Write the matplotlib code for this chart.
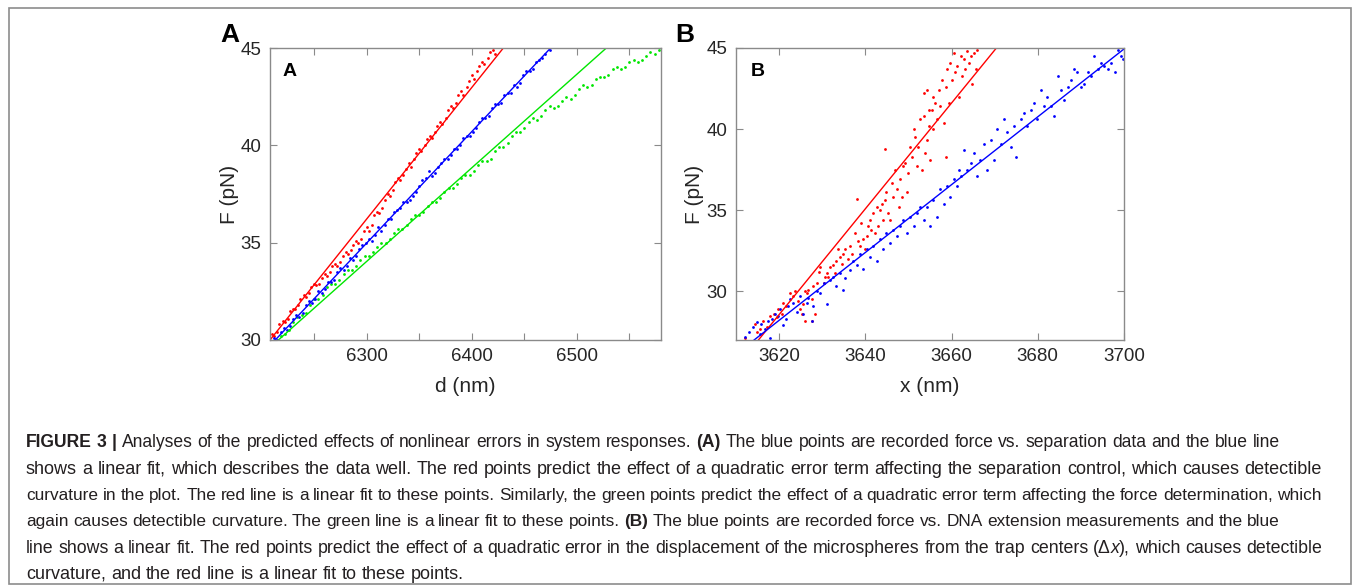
"""Figure 3 (A: force vs separation, B: force vs extension) with caption."""

import math

import matplotlib

matplotlib.use("Agg")
import matplotlib.pyplot as plt
from matplotlib import font_manager
from matplotlib.backends.backend_agg import get_hinting_flag
from matplotlib.font_manager import FontProperties
from matplotlib.patches import Rectangle

W, H, DPI = 1355, 585, 100

# ---- panel A: F vs d ----
a_blue_x = [6212, 6215, 6218, 6221, 6224, 6227, 6230, 6233, 6236, 6239, 6242, 6245,
            6248, 6251, 6254, 6257, 6260, 6263, 6266, 6269, 6272, 6275, 6278, 6281,
            6284, 6287, 6290, 6293, 6296, 6299, 6302, 6305, 6308, 6311, 6314, 6317,
            6320, 6323, 6326, 6329, 6332, 6335, 6338, 6341, 6344, 6347, 6350, 6353,
            6356, 6359, 6362, 6365, 6368, 6371, 6374, 6377, 6380, 6383, 6386, 6389,
            6392, 6395, 6398, 6401, 6404, 6407, 6410, 6413, 6416, 6419, 6422, 6425,
            6428, 6431, 6434, 6437, 6440, 6443, 6446, 6449, 6452, 6455, 6458, 6461,
            6464, 6467, 6470, 6474]
a_blue_y = [30.1, 30.0, 30.4, 30.6, 30.5, 30.7, 31.1, 31.3, 31.2, 31.4, 31.8, 32.0,
            31.9, 32.1, 32.5, 32.4, 32.6, 33.0, 33.0, 33.1, 33.5, 33.7, 33.6, 33.8,
            34.2, 34.1, 34.3, 34.7, 34.9, 35.0, 35.2, 35.1, 35.4, 35.8, 35.6, 35.9,
            36.2, 36.2, 36.6, 36.7, 36.8, 37.1, 37.1, 37.2, 37.4, 37.6, 37.9, 38.2,
            38.3, 38.7, 38.4, 38.6, 38.9, 39.1, 39.3, 39.3, 39.5, 39.8, 39.8, 40.0,
            40.4, 40.5, 40.5, 40.7, 40.9, 41.2, 41.4, 41.4, 41.5, 41.9, 42.1, 42.1,
            42.2, 42.6, 42.7, 42.7, 43.1, 43.0, 43.2, 43.6, 43.8, 43.8, 43.9, 44.3,
            44.4, 44.5, 44.7, 44.9]

a_red_x = [6210, 6212, 6215, 6217, 6220, 6222, 6225, 6227, 6230, 6232, 6235, 6237,
           6240, 6242, 6245, 6247, 6250, 6252, 6255, 6257, 6260, 6262, 6265, 6267,
           6270, 6272, 6275, 6277, 6280, 6282, 6285, 6287, 6290, 6292, 6295, 6297,
           6300, 6302, 6305, 6307, 6310, 6312, 6315, 6317, 6320, 6322, 6325, 6327,
           6330, 6332, 6335, 6337, 6340, 6342, 6345, 6347, 6350, 6352, 6355, 6357,
           6360, 6362, 6365, 6367, 6370, 6372, 6375, 6377, 6380, 6382, 6385, 6387,
           6390, 6392, 6395, 6397, 6400, 6402, 6405, 6407, 6410, 6412, 6415, 6417,
           6420, 6422]
a_red_y = [30.3, 30.2, 30.4, 30.8, 31.0, 30.9, 31.1, 31.5, 31.6, 31.6, 31.8, 32.1,
           32.3, 32.2, 32.4, 32.7, 32.9, 32.8, 32.9, 33.2, 33.4, 33.3, 33.5, 33.8,
           33.9, 33.8, 34.0, 34.3, 34.5, 34.4, 34.6, 34.9, 35.1, 35.0, 35.2, 35.6,
           35.8, 35.6, 35.9, 36.4, 36.6, 36.5, 36.8, 37.2, 37.5, 37.4, 37.7, 38.1,
           38.3, 38.2, 38.5, 38.8, 39.1, 38.9, 39.3, 39.6, 39.8, 39.7, 40.0, 40.3,
           40.5, 40.4, 40.7, 41.0, 41.2, 41.1, 41.4, 41.8, 42.0, 41.9, 42.2, 42.6,
           42.8, 42.6, 43.0, 43.3, 43.6, 43.4, 43.8, 44.1, 44.3, 44.2, 44.5, 44.8,
           44.9, 44.7]

a_green_x = [6218, 6222, 6226, 6230, 6234, 6238, 6242, 6246, 6250, 6254, 6258, 6262,
             6266, 6270, 6274, 6278, 6282, 6286, 6290, 6294, 6298, 6302, 6306, 6310,
             6314, 6318, 6322, 6326, 6330, 6334, 6338, 6342, 6346, 6350, 6354, 6358,
             6362, 6366, 6370, 6374, 6378, 6382, 6386, 6390, 6394, 6398, 6402, 6406,
             6410, 6414, 6418, 6422, 6426, 6430, 6434, 6438, 6442, 6446, 6450, 6454,
             6458, 6462, 6466, 6470, 6474, 6478, 6482, 6486, 6490, 6494, 6498, 6502,
             6506, 6510, 6514, 6518, 6522, 6526, 6530, 6534, 6538, 6542, 6546, 6550,
             6554, 6558, 6562, 6566, 6570, 6574, 6578]
a_green_y = [30.2, 30.3, 30.5, 30.9, 31.2, 31.3, 31.4, 31.8, 32.1, 32.1, 32.3, 32.7,
             32.9, 32.9, 33.1, 33.4, 33.6, 33.6, 33.8, 34.1, 34.3, 34.3, 34.5, 34.8,
             35.0, 35.0, 35.2, 35.5, 35.7, 35.7, 35.9, 36.2, 36.4, 36.4, 36.6, 36.9,
             37.1, 37.1, 37.3, 37.6, 37.8, 37.8, 38.0, 38.3, 38.5, 38.5, 38.7, 39.0,
             39.2, 39.2, 39.3, 39.7, 39.9, 39.9, 40.1, 40.5, 40.7, 40.7, 40.9, 41.2,
             41.4, 41.3, 41.5, 41.8, 42.0, 41.9, 42.0, 42.3, 42.5, 42.4, 42.6, 42.9,
             43.1, 43.0, 43.1, 43.4, 43.5, 43.5, 43.6, 43.9, 44.0, 43.9, 44.0, 44.3,
             44.4, 44.3, 44.4, 44.6, 44.8, 44.7, 44.9]

a_red_fit_x, a_red_fit_y = [6208, 6430], [30, 45]
a_blue_fit_x, a_blue_fit_y = [6213, 6475], [30, 45]
a_green_fit_x, a_green_fit_y = [6216, 6528], [30, 45]

# ---- panel B: F vs x ----
b_red_x = [3612.1, 3614.4, 3614.8, 3615.6, 3616.3, 3617.1, 3617.9, 3618.7, 3619.4, 3619.8,
           3620.6, 3621.0, 3621.7, 3622.5, 3623.3, 3623.7, 3624.4, 3624.8, 3625.2, 3625.6,
           3626.0, 3626.0, 3626.4, 3626.8, 3627.6, 3627.6, 3627.9, 3628.3, 3628.7, 3629.3,
           3629.6, 3630.3, 3630.6, 3631.0, 3631.4, 3631.8, 3632.6, 3632.9, 3633.3, 3633.7,
           3634.1, 3634.5, 3634.9, 3635.3, 3636.0, 3636.4, 3636.8, 3637.6, 3638.0, 3638.4,
           3638.7, 3639.1, 3639.5, 3639.9, 3640.3, 3640.7, 3641.1, 3641.4, 3641.8, 3642.2,
           3642.6, 3643.0, 3643.4, 3643.8, 3644.2, 3644.5, 3644.5, 3644.9, 3645.3, 3645.7,
           3646.1, 3646.5, 3646.9, 3647.3, 3647.7, 3648.0, 3648.4, 3648.8, 3649.2, 3649.6,
           3650.0, 3650.4, 3650.8, 3651.2, 3651.6, 3651.9, 3652.3, 3652.7, 3653.1, 3653.5,
           3653.5, 3653.9, 3654.3, 3654.3, 3654.7, 3654.7, 3655.1, 3655.5, 3655.8, 3655.8,
           3656.2, 3656.6, 3657.0, 3657.4, 3657.8, 3658.2, 3658.6, 3658.6, 3659.0, 3659.4,
           3659.7, 3660.1, 3660.5, 3660.9, 3661.3, 3661.7, 3662.1, 3662.5, 3662.9, 3663.2,
           3663.6, 3664.0, 3664.4, 3664.8, 3665.2, 3665.6, 3666.0]
b_red_y = [27.1, 28.0, 27.5, 27.7, 28.2, 27.8, 28.5, 28.6, 28.4, 28.9,
           28.6, 29.3, 29.1, 29.9, 29.7, 30.0, 29.4, 28.9, 28.6, 29.2,
           30.0, 28.2, 29.9, 30.1, 29.5, 28.2, 30.3, 28.6, 30.5, 31.2,
           31.5, 30.5, 30.9, 31.1, 30.9, 31.5, 31.6, 31.1, 31.9, 32.6,
           32.1, 31.7, 32.3, 32.6, 32.0, 32.8, 32.3, 33.6, 35.7, 33.1,
           32.8, 34.2, 33.2, 32.6, 33.4, 34.0, 34.4, 33.8, 34.8, 33.6,
           35.2, 34.0, 35.0, 35.4, 34.4, 38.8, 35.6, 36.1, 34.8, 34.4,
           36.7, 35.8, 37.5, 36.3, 35.2, 36.9, 35.8, 37.7, 37.9, 36.1,
           37.3, 38.9, 38.3, 40.0, 39.5, 37.7, 38.9, 40.6, 37.5, 40.8,
           42.2, 38.5, 39.3, 42.4, 40.2, 41.2, 38.1, 41.2, 42.0, 40.0,
           41.6, 40.6, 42.4, 41.4, 43.0, 40.4, 42.6, 38.3, 43.7, 41.6,
           44.1, 43.0, 44.7, 43.5, 43.9, 42.0, 44.5, 43.3, 44.3, 43.7,
           44.8, 44.1, 44.5, 42.8, 44.7, 43.7, 44.9]

b_blue_x = [3612.1, 3612.9, 3614.0, 3614.8, 3615.6, 3615.9, 3616.7, 3617.5, 3617.9, 3618.3,
            3619.0, 3619.8, 3620.2, 3621.0, 3621.7, 3622.1, 3622.5, 3623.3, 3624.1, 3624.8,
            3625.6, 3626.4, 3626.8, 3627.6, 3627.9, 3628.7, 3629.5, 3630.3, 3631.0, 3631.8,
            3632.6, 3633.3, 3634.1, 3634.9, 3635.3, 3636.4, 3637.2, 3638.0, 3638.7, 3639.5,
            3640.3, 3641.1, 3641.8, 3642.6, 3643.4, 3644.2, 3644.9, 3645.7, 3646.5, 3647.3,
            3648.0, 3648.8, 3649.6, 3650.4, 3651.2, 3651.9, 3652.7, 3653.5, 3654.3, 3655.1,
            3655.8, 3656.6, 3657.4, 3658.2, 3658.9, 3659.7, 3660.5, 3661.3, 3661.7, 3662.1,
            3662.9, 3663.6, 3664.4, 3665.2, 3666.0, 3666.7, 3667.5, 3668.3, 3669.1, 3669.8,
            3670.6, 3671.4, 3672.2, 3672.9, 3673.7, 3674.5, 3674.9, 3676.0, 3676.8, 3677.6,
            3678.4, 3679.1, 3679.9, 3680.7, 3681.5, 3682.2, 3683.0, 3683.8, 3684.6, 3685.3,
            3686.1, 3686.9, 3687.7, 3688.4, 3689.2, 3690.0, 3690.8, 3691.6, 3692.3, 3693.1,
            3693.9, 3694.7, 3695.4, 3696.2, 3697.0, 3697.8, 3698.6, 3699.3, 3699.8]
b_blue_y = [27.2, 27.5, 27.8, 28.1, 27.4, 28.0, 27.7, 28.2, 27.1, 28.3,
            28.6, 28.5, 28.9, 27.9, 28.3, 29.1, 29.5, 29.3, 28.7, 29.7,
            28.6, 29.3, 29.6, 28.2, 29.1, 30.0, 29.9, 30.5, 29.2, 30.7,
            30.9, 30.3, 31.1, 30.1, 30.8, 31.3, 31.9, 31.6, 32.3, 31.4,
            32.6, 32.1, 32.8, 31.9, 33.2, 32.6, 33.6, 33.0, 33.8, 33.4,
            34.0, 34.4, 33.6, 34.6, 34.0, 34.8, 35.2, 34.4, 35.2, 34.0,
            35.6, 34.6, 36.3, 35.4, 36.5, 35.8, 36.9, 36.5, 37.5, 37.1,
            38.7, 37.5, 37.9, 38.5, 37.1, 38.1, 39.1, 37.5, 39.3, 38.1,
            40.0, 39.1, 40.6, 39.8, 38.9, 40.2, 38.3, 40.6, 41.0, 40.2,
            41.2, 41.6, 40.6, 42.4, 41.4, 42.0, 41.4, 40.8, 43.3, 42.4,
            41.8, 42.6, 43.0, 43.7, 43.5, 42.6, 42.8, 43.5, 43.3, 44.5,
            43.7, 44.1, 43.9, 43.7, 44.1, 43.5, 44.9, 44.5, 44.3]

b_red_fit_x, b_red_fit_y = [3615.2, 3670.4], [27, 45]
b_blue_fit_x, b_blue_fit_y = [3614.2, 3700.0], [27, 44.94]

# ---- caption ----
CAPTION = [
    [("FIGURE 3 |", "bold"),
     (" Analyses of the predicted effects of nonlinear errors in system responses. ", "normal"),
     ("(A)", "bold"),
     (" The blue points are recorded force vs. separation data and the blue line", "normal")],
    [("shows a linear fit, which describes the data well. The red points predict the effect "
      "of a quadratic error term affecting the separation control, which causes detectible", "normal")],
    [("curvature in the plot. The red line is a linear fit to these points. Similarly, the green "
      "points predict the effect of a quadratic error term affecting the force determination, which",
      "normal")],
    [("again causes detectible curvature. The green line is a linear fit to these points. ", "normal"),
     ("(B)", "bold"),
     (" The blue points are recorded force vs. DNA extension measurements and the blue", "normal")],
    [("line shows a linear fit. The red points predict the effect of a quadratic error in the "
      "displacement of the microspheres from the trap centers (\u0394", "normal"),
     ("x", "italic"),
     ("), which causes detectible", "normal")],
    [("curvature, and the red line is a linear fit to these points.", "normal")],
]
# baselines of the caption lines, whole pixels from the top
CAPTION_Y = [447, 474, 500, 526, 553, 579]
CAPTION_END = [1280, 1322, 1322, 1280, 1322, None]
CAPTION_X = 26

RED, BLUE, GREEN = "#ff0000", "#0000ff", "#00e600"
SPINE = "#8a8a8a"
TXT = "#262626"


def pick_font(names):
    for name in names:
        try:
            font_manager.findfont(name, fallback_to_default=False)
            return name
        except ValueError:
            continue
    return "DejaVu Sans"


AX_FONT = pick_font(["Liberation Sans", "Arial"])
CAP_FONT = pick_font(["Liberation Sans", "Arial"])
plt.rcParams["font.family"] = [AX_FONT, "DejaVu Sans"]


def fx(px):
    return px / W


def fy(py):
    return 1 - py / H


def style_axes(ax):
    for sp in ax.spines.values():
        sp.set_color(SPINE)
        sp.set_linewidth(1.0)
    ax.tick_params(which="both", direction="in", length=5, width=0.8, color=SPINE,
                   labelsize=13.5, labelcolor=TXT, top=True, right=True, pad=6)


def scatter(ax, x, y, color):
    ax.plot(x, y, linestyle="none", marker="o", markersize=2.0, markeredgewidth=0,
            color=color)


def fit(ax, x, y, color):
    ax.plot(x, y, color=color, linewidth=1.0)


def panel_a(fig):
    ax = fig.add_axes([fx(270), fy(340), fx(391), 292 / H])
    scatter(ax, a_green_x, a_green_y, GREEN)
    scatter(ax, a_red_x, a_red_y, RED)
    scatter(ax, a_blue_x, a_blue_y, BLUE)
    fit(ax, a_green_fit_x, a_green_fit_y, GREEN)
    fit(ax, a_red_fit_x, a_red_fit_y, RED)
    fit(ax, a_blue_fit_x, a_blue_fit_y, BLUE)
    ax.set_xlim(6208, 6580)
    ax.set_ylim(30, 45)
    ax.set_xticks([6300, 6400, 6500])
    ax.set_xticks([6250, 6350, 6450, 6550], minor=True)
    ax.set_yticks([30, 35, 40, 45])
    style_axes(ax)
    ax.text(0.033, 0.95, "A", transform=ax.transAxes, ha="left", va="top",
            fontsize=14, fontweight="bold", color="black")
    ax.text(-0.104, 0.5, "F (pN)", transform=ax.transAxes, rotation=90,
            ha="center", va="center", fontsize=15, color=TXT)
    ax.text(0.5, -0.158, "d (nm)", transform=ax.transAxes,
            ha="center", va="center", fontsize=15, color=TXT)
    return ax


def panel_b(fig):
    ax = fig.add_axes([fx(736), fy(340), fx(388), 292 / H])
    scatter(ax, b_red_x, b_red_y, RED)
    scatter(ax, b_blue_x, b_blue_y, BLUE)
    fit(ax, b_red_fit_x, b_red_fit_y, RED)
    fit(ax, b_blue_fit_x, b_blue_fit_y, BLUE)
    ax.set_xlim(3610, 3700)
    ax.set_ylim(27, 45)
    ax.set_xticks([3620, 3640, 3660, 3680, 3700])
    ax.set_yticks([30, 35, 40, 45])
    style_axes(ax)
    ax.text(0.039, 0.95, "B", transform=ax.transAxes, ha="left", va="top",
            fontsize=14, fontweight="bold", color="black")
    ax.text(-0.108, 0.5, "F (pN)", transform=ax.transAxes, rotation=90,
            ha="center", va="center", fontsize=15, color=TXT)
    ax.text(0.5, -0.158, "x (nm)", transform=ax.transAxes,
            ha="center", va="center", fontsize=15, color=TXT)
    return ax


def split_words(segments):
    words = [[]]
    for text, style in segments:
        parts = text.split(" ")
        for i, part in enumerate(parts):
            if i > 0:
                words.append([])
            if part:
                words[-1].append((part, style))
    return [w for w in words if w]


def text_kw(style, fs):
    kw = {"fontsize": fs, "family": [CAP_FONT, "DejaVu Sans"], "color": "#231f20"}
    if style == "bold":
        kw["fontweight"] = "bold"
    elif style == "italic":
        kw["fontstyle"] = "italic"
    return kw


def measure(fig, renderer, s, style, fs):
    t = fig.text(0, 0, s, **text_kw(style, fs))
    w = t.get_window_extent(renderer).width
    t.remove()
    return w


def baseline_fix(renderer, s, style, fs):
    """Sub-pixel shift so that Agg puts every word's baseline on the same pixel row."""
    kw = text_kw(style, fs)
    try:
        prop = FontProperties(family=kw["family"], size=fs,
                              weight=kw.get("fontweight", "normal"),
                              style=kw.get("fontstyle", "normal"))
        font = renderer._prepare_font(prop)
        font.set_text(s, 0, flags=get_hinting_flag())
        _, h26 = font.get_width_height()
        d26 = font.get_descent()
        ymax26 = h26 - d26
        return math.floor(ymax26 / 64) - math.floor(h26 / 64) + d26 / 64.0
    except Exception:
        return 0.0


def line_layout(fig, renderer, words, fs):
    widths = [[measure(fig, renderer, p, st, fs) for p, st in w] for w in words]
    total = sum(sum(ws) for ws in widths)
    space = measure(fig, renderer, "a a", "normal", fs) - measure(fig, renderer, "aa", "normal", fs)
    return widths, total, space


def draw_caption(fig):
    renderer = fig.canvas.get_renderer()
    fs_max = 13.0
    for segs, y, end in zip(CAPTION, CAPTION_Y, CAPTION_END):
        words = split_words(segs)
        fs = fs_max
        widths, total, space = line_layout(fig, renderer, words, fs)
        if end is None:
            gap = space
        else:
            natural = total + space * (len(words) - 1)
            target = end - CAPTION_X
            if natural > target:
                fs = fs * target / natural
                widths, total, space = line_layout(fig, renderer, words, fs)
            gap = (target - total) / (len(words) - 1)
        x = CAPTION_X
        for w, ws in zip(words, widths):
            for (p, st), pw in zip(w, ws):
                base_up = H - y + baseline_fix(renderer, p, st, fs)
                fig.text(fx(x), base_up / H, p, ha="left", va="baseline", **text_kw(st, fs))
                x += pw
            x += gap


def main():
    fig = plt.figure(figsize=(W / DPI, H / DPI), dpi=DPI)
    fig.patches.append(Rectangle((fx(9), fy(584)), fx(1351 - 9), (584 - 8) / H,
                                 transform=fig.transFigure, fill=False,
                                 edgecolor="#8c8c8c", linewidth=1.2))
    panel_a(fig)
    panel_b(fig)
    fig.text(fx(230), fy(35), "A", ha="center", va="center", fontsize=19,
             fontweight="bold", color="black")
    fig.text(fx(685), fy(35), "B", ha="center", va="center", fontsize=19,
             fontweight="bold", color="black")
    draw_caption(fig)
    fig.savefig("out.png", dpi=DPI)
    plt.close(fig)


if __name__ == "__main__":
    main()
